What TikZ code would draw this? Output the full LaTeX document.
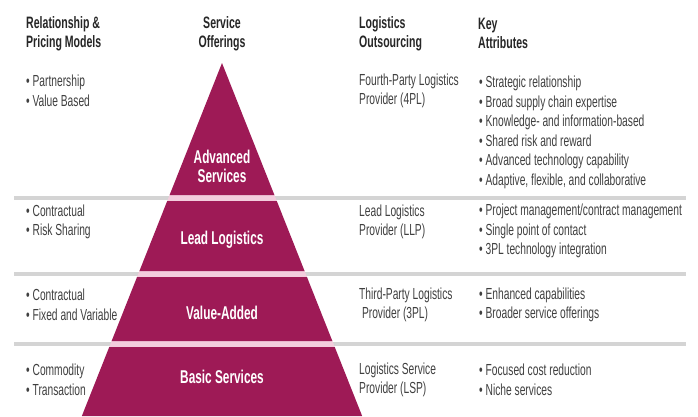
\documentclass[tikz,border=0pt]{standalone}
\usepackage{fontspec}
\setmainfont[FakeStretch=0.64]{Liberation Sans}
\usetikzlibrary{positioning}
\definecolor{pyrmagenta}{RGB}{158,26,86}
\definecolor{gappink}{RGB}{243,205,221}
\definecolor{rulegray}{RGB}{212,212,212}
\definecolor{textgray}{RGB}{64,64,64}

\begin{document}
\begin{tikzpicture}[x=1pt,y=-1pt]
% Define styles
\tikzstyle{header} = [anchor=west, align=left, inner sep=0pt, text=black!85, font=\fontsize{16.5}{19}\selectfont\bfseries]
\tikzstyle{cell} = [anchor=west, align=left, inner sep=0pt, text=textgray, font=\fontsize{16}{19.5}\selectfont]
\tikzstyle{layerlabel} = [align=center, inner sep=0pt, text=white, font=\fontsize{18.5}{19}\selectfont\bfseries]
\tikzstyle{rule} = [rulegray, line width=4pt]

\fill[white] (0,0) rectangle (698,416);
\useasboundingbox (0,0) rectangle (698,416);

% Draw rules
\foreach \y in {198,274,344}
  \draw[rule] (14,\y) -- (686,\y);

% Draw pyramid
\foreach \ytop/\ybot in {195/201, 271/277, 341/347}{
  \pgfmathsetmacro{\wtop}{0.397*(\ytop-63)}
  \pgfmathsetmacro{\wbot}{0.397*(\ybot-63)}
  \fill[gappink] (222-\wtop,\ytop) -- (222+\wtop,\ytop) -- (222+\wbot,\ybot) -- (222-\wbot,\ybot) -- cycle;
}
\foreach \ytop/\ybot in {63/195, 201/271, 277/341, 347/416}{
  \pgfmathsetmacro{\wtop}{0.397*(\ytop-63)}
  \pgfmathsetmacro{\wbot}{0.397*(\ybot-63)}
  \fill[pyrmagenta] (222-\wtop,\ytop) -- (222+\wtop,\ytop) -- (222+\wbot,\ybot) -- (222-\wbot,\ybot) -- cycle;
}

% Draw headers
\node (hpricing) [header] at (26,33.5) {Relationship \&\\Pricing Models};
\node (hservice) [header, anchor=center, align=center] at (222,33.5) {Service\\Offerings};
\node (houtsrc) [header] at (359,33.5) {Logistics\\Outsourcing};
\node (hattr) [header] at (478,33.5) {Key\\Attributes};

% Draw layer labels
\node (advanced) [layerlabel] at (222,166) {Advanced\\Services};
\node (lead) [layerlabel] at (222,240) {Lead Logistics};
\node (value) [layerlabel] at (222,313) {Value-Added};
\node (basic) [layerlabel] at (222,377) {Basic Services};

% Draw cells
\node (pricea) [cell] at (26,91) {• Partnership\\• Value Based};
\node (priceb) [cell] at (26,222) {• Contractual\\• Risk Sharing};
\node (pricec) [cell] at (26,305) {• Contractual\\• Fixed and Variable};
\node (priced) [cell] at (26,380) {• Commodity\\• Transaction};

\node (outa) [cell] at (359,91) {Fourth-Party Logistics\\Provider (4PL)};
\node (outb) [cell] at (359,222) {Lead Logistics\\Provider (LLP)};
\node (outc) [cell] at (359,305) {Third-Party Logistics\\\ Provider (3PL)};
\node (outd) [cell] at (359,380) {Logistics Service\\Provider (LSP)};

\node (attra) [cell] at (479,132.5) {• Strategic relationship\\• Broad supply chain expertise\\• Knowledge- and information-based\\• Shared risk and reward\\• Advanced technology capability\\• Adaptive, flexible, and collaborative};
\node (attrb) [cell] at (479,231) {• Project management/contract management\\• Single point of contact\\• 3PL technology integration};
\node (attrc) [cell] at (479,305) {• Enhanced capabilities\\• Broader service offerings};
\node (attrd) [cell] at (479,380) {• Focused cost reduction\\• Niche services};
\end{tikzpicture}
\end{document}
